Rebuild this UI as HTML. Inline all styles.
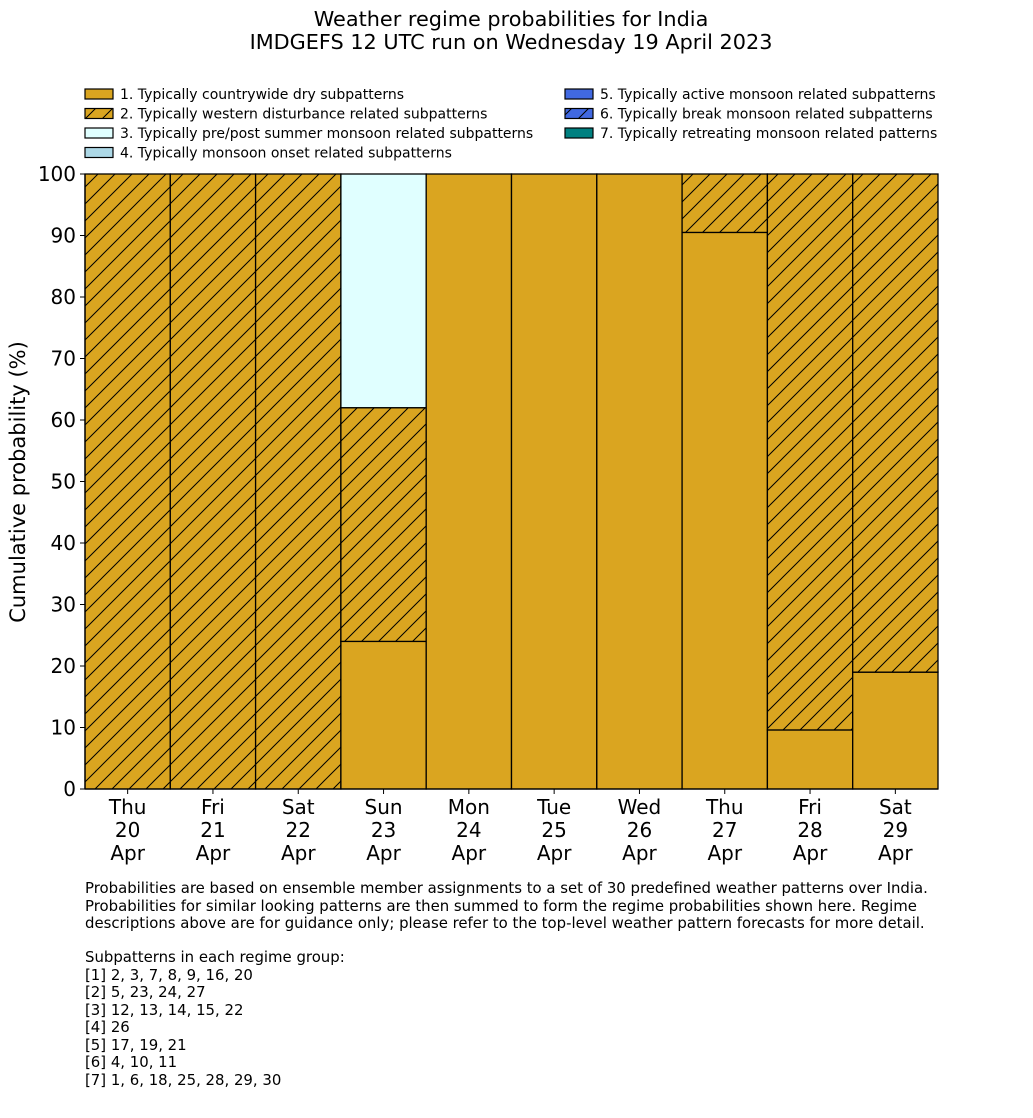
<!DOCTYPE html>
<html><head><meta charset="utf-8"><style>
body{margin:0;background:#fff;width:1033px;height:1114px;overflow:hidden;font-family:"DejaVu Sans","Liberation Sans",sans-serif}
</style></head><body>
<svg id="chart" width="1033" height="1114" xmlns="http://www.w3.org/2000/svg" font-family="DejaVu Sans, Liberation Sans, sans-serif">
<defs>
<pattern id="hatch" patternUnits="userSpaceOnUse" width="17" height="17">
<rect width="17" height="17" fill="#daa520"/>
<path d="M-1,18 L18,-1 M-5,5 L5,-5 M12,22 L22,12" stroke="#000" stroke-width="1"/>
</pattern>
<pattern id="hatchb" patternUnits="userSpaceOnUse" width="17" height="17">
<rect width="17" height="17" fill="#4169e1"/>
<path d="M-1,18 L18,-1 M-5,5 L5,-5 M12,22 L22,12" stroke="#000" stroke-width="1"/>
</pattern>
</defs>
<text x="511" y="26" text-anchor="middle" font-size="20.8">Weather regime probabilities for India</text>
<text x="511" y="49" text-anchor="middle" font-size="20.8">IMDGEFS 12 UTC run on Wednesday 19 April 2023</text>
<g id="legend" font-size="14"></g>
<g id="bars"></g>
<g id="axes"></g>
<text transform="translate(25,482) rotate(-90)" text-anchor="middle" font-size="21">Cumulative probability (%)</text>
<g font-size="14.9">
<text x="85" y="893">Probabilities are based on ensemble member assignments to a set of 30 predefined weather patterns over India.</text>
<text x="85" y="911">Probabilities for similar looking patterns are then summed to form the regime probabilities shown here. Regime</text>
<text x="85" y="928">descriptions above are for guidance only; please refer to the top-level weather pattern forecasts for more detail.</text>
<text x="85" y="962">Subpatterns in each regime group:</text>
<text x="85" y="980">[1] 2, 3, 7, 8, 9, 16, 20</text>
<text x="85" y="997">[2] 5, 23, 24, 27</text>
<text x="85" y="1015">[3] 12, 13, 14, 15, 22</text>
<text x="85" y="1032">[4] 26</text>
<text x="85" y="1050">[5] 17, 19, 21</text>
<text x="85" y="1067">[6] 4, 10, 11</text>
<text x="85" y="1085">[7] 1, 6, 18, 25, 28, 29, 30</text>
</g>
</svg>
<script>
const days=["Thu","Fri","Sat","Sun","Mon","Tue","Wed","Thu","Fri","Sat"];
const dates=["20","21","22","23","24","25","26","27","28","29"];
const dry=[0,0,0,24,100,100,100,90.5,9.6,19];
const wd=[100,100,100,38,0,0,0,9.5,90.4,81];
const prepost=[0,0,0,38,0,0,0,0,0,0];
const yTicks=[0,10,20,30,40,50,60,70,80,90,100];
const legendLabels=["1. Typically countrywide dry subpatterns","2. Typically western disturbance related subpatterns","3. Typically pre/post summer monsoon related subpatterns","4. Typically monsoon onset related subpatterns","5. Typically active monsoon related subpatterns","6. Typically break monsoon related subpatterns","7. Typically retreating monsoon related patterns"];
const legendFills=["#daa520","url(#hatch)","#e0ffff","#add8e6","#4169e1","url(#hatchb)","#008080"];
const NS="http://www.w3.org/2000/svg";
const X0=85,X1=938,Y0=789,Y1=174;
const bw=(X1-X0)/days.length;
const xs=i=>X0+i*bw;
const ys=v=>Y0-(Y0-Y1)*v/100;
function mk(tag,attrs,parent){const e=document.createElementNS(NS,tag);for(const k in attrs)e.setAttribute(k,attrs[k]);parent.appendChild(e);return e;}
const bars=document.getElementById('bars');
const series=[[dry,"#daa520","dry"],[wd,"url(#hatch)","western-disturbance"],[prepost,"#e0ffff","pre-post-monsoon"]];
days.forEach((d,i)=>{let base=0;series.forEach(s=>{const v=s[0][i];if(v>0){const r=mk('rect',{x:xs(i),y:ys(base+v),width:bw,height:ys(base)-ys(base+v),fill:s[1],stroke:"#000","stroke-width":1.3},bars);

}base+=v;});});
const axes=document.getElementById('axes');
mk('line',{x1:X0,y1:Y1,x2:X0,y2:Y0,stroke:"#000","stroke-width":1.3},axes);
mk('line',{x1:X0,y1:Y0,x2:X1,y2:Y0,stroke:"#000","stroke-width":1.3},axes);
yTicks.forEach(t=>{mk('line',{x1:X0-5,y1:ys(t),x2:X0,y2:ys(t),stroke:"#000"},axes);
const tx=mk('text',{x:X0-9,y:ys(t)+7,"text-anchor":"end","font-size":20},axes);tx.textContent=t;

});
days.forEach((d,i)=>{const cx=xs(i)+bw/2;mk('line',{x1:cx,y1:Y0,x2:cx,y2:Y0+5,stroke:"#000"},axes);
[d,dates[i],"Apr"].forEach((s,j)=>{const tx=mk('text',{x:cx,y:814+j*23,"text-anchor":"middle","font-size":20},axes);tx.textContent=s;

});});
const lg=document.getElementById('legend');
legendLabels.forEach((l,i)=>{const col=i<4?0:1,row=i<4?i:i-4;const x=col?565:85,y=89+row*19.5;
const r=mk('rect',{x:x,y:y,width:28,height:10,fill:legendFills[i],stroke:"#000","stroke-width":1.2},lg);


const t=mk('text',{x:x+35,y:y+10},lg);t.textContent=l;

});
</script>
</body></html>
